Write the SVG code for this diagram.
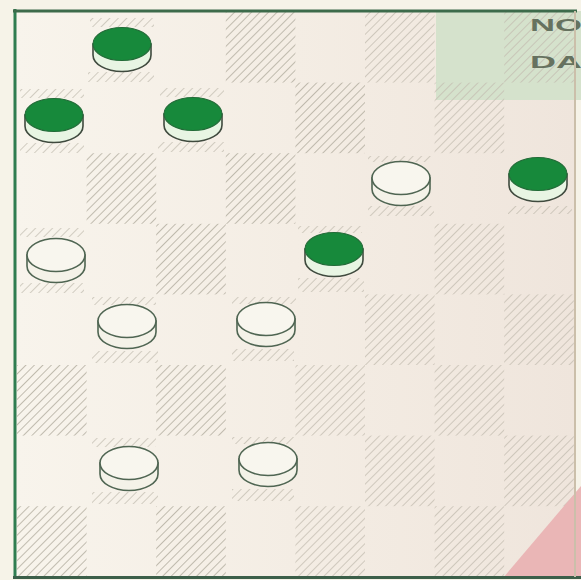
<svg xmlns="http://www.w3.org/2000/svg" xmlns:xlink="http://www.w3.org/1999/xlink" width="581" height="580" viewBox="0 0 581 580">
<defs>
<style>
.dark{fill:url(#hatch);}
.dark2{fill:url(#hatch2);}
.halo{fill:url(#hatch);opacity:0.7;}
.lbl{font-family:"Liberation Sans",Arial,sans-serif;font-weight:bold;font-size:17px;fill:#66725f;}
</style>
<linearGradient id="paper" x1="0" y1="0" x2="1" y2="0">
<stop offset="0" stop-color="#f8f4ec"/>
<stop offset="0.5" stop-color="#f4ede4"/>
<stop offset="1" stop-color="#efe5dc"/>
</linearGradient>
<pattern id="hatch" patternUnits="userSpaceOnUse" width="6" height="6" patternTransform="rotate(45)">
<line x1="0" y1="0" x2="0" y2="6" stroke="#b3ada0" stroke-width="1.6"/>
</pattern>
<pattern id="hatch2" patternUnits="userSpaceOnUse" width="6" height="6" patternTransform="rotate(45)">
<line x1="0" y1="0" x2="0" y2="6" stroke="#c3bcb0" stroke-width="1.5"/>
</pattern>
<g id="greenPiece">
<path d="M-29,0 L-29,11 A29,16.5 0 0 0 29,11 L29,0 Z" fill="#e8f5e3" stroke="#3f4a3e" stroke-width="1.6"/>
<ellipse cx="0" cy="0" rx="29" ry="16.5" fill="#17893b" stroke="#236b38" stroke-width="1.2"/>
</g>
<g id="whitePiece">
<path d="M-29,0 L-29,11 A29,16.5 0 0 0 29,11 L29,0 Z" fill="#f4f2e8" stroke="#4f6552" stroke-width="1.6"/>
<ellipse cx="0" cy="0" rx="29" ry="16.5" fill="#f8f6ee" stroke="#4f6552" stroke-width="1.6"/>
</g>
</defs>

<!-- paper -->
<rect x="0" y="0" width="581" height="580" fill="#f6f3e8"/>
<rect x="15" y="11" width="560" height="567" fill="url(#paper)"/>
<!-- green tinted corner -->
<rect x="436" y="11" width="145" height="89" fill="#d5e2cc"/>

<!-- dark squares, full hatch -->
<g id="board-squares">
<rect class="dark" x="225.8" y="12" width="69.6" height="70.6"/>
<rect class="dark2" x="365" y="12" width="69.6" height="70.6"/>
<rect class="dark2" x="504.2" y="12" width="69.6" height="70.6"/>

<rect class="dark" x="295.4" y="82.6" width="69.6" height="70.6"/>
<rect class="dark2" x="434.6" y="82.6" width="69.6" height="70.6"/>

<rect class="dark" x="86.6" y="153.2" width="69.6" height="70.6"/>
<rect class="dark" x="225.8" y="153.2" width="69.6" height="70.6"/>

<rect class="dark" x="156.2" y="223.8" width="69.6" height="70.6"/>
<rect class="dark2" x="434.6" y="223.8" width="69.6" height="70.6"/>

<rect class="dark2" x="365" y="294.4" width="69.6" height="70.6"/>
<rect class="dark2" x="504.2" y="294.4" width="69.6" height="70.6"/>

<rect class="dark" x="17" y="365" width="69.6" height="70.6"/>
<rect class="dark" x="156.2" y="365" width="69.6" height="70.6"/>
<rect class="dark2" x="295.4" y="365" width="69.6" height="70.6"/>
<rect class="dark2" x="434.6" y="365" width="69.6" height="70.6"/>

<rect class="dark2" x="365" y="435.6" width="69.6" height="70.6"/>
<rect class="dark2" x="504.2" y="435.6" width="69.6" height="70.6"/>

<rect class="dark" x="17" y="506.2" width="69.6" height="70.6"/>
<rect class="dark" x="156.2" y="506.2" width="69.6" height="70.6"/>
<rect class="dark2" x="295.4" y="506.2" width="69.6" height="70.6"/>
<rect class="dark2" x="434.6" y="506.2" width="69.6" height="70.6"/>

<!-- occupied dark squares: hatch only in strips above and below the piece -->
<rect class="halo" x="90" y="18" width="64" height="9"/>
<rect class="halo" x="88" y="72" width="66" height="10"/>
<rect class="halo" x="20" y="89" width="64" height="9"/>
<rect class="halo" x="20" y="143" width="64" height="10"/>
<rect class="halo" x="160" y="88" width="64" height="9"/>
<rect class="halo" x="158" y="142" width="66" height="10"/>
<rect class="halo" x="368" y="156" width="64" height="6"/>
<rect class="halo" x="368" y="206" width="66" height="10"/>
<rect class="halo" x="508" y="206" width="64" height="8"/>
<rect class="halo" x="20" y="228" width="64" height="9"/>
<rect class="halo" x="20" y="283" width="64" height="10"/>
<rect class="halo" x="298" y="226" width="64" height="7"/>
<rect class="halo" x="298" y="278" width="66" height="14"/>
<rect class="halo" x="92" y="297" width="64" height="8"/>
<rect class="halo" x="92" y="351" width="66" height="12"/>
<rect class="halo" x="232" y="297" width="64" height="7"/>
<rect class="halo" x="232" y="349" width="62" height="12"/>
<rect class="halo" x="92" y="438" width="64" height="9"/>
<rect class="halo" x="92" y="492" width="66" height="12"/>
<rect class="halo" x="232" y="437" width="62" height="7"/>
<rect class="halo" x="232" y="489" width="62" height="12"/>
</g>

<!-- pink corner -->
<polygon points="581,486 503,578 581,578" fill="#eab6b6"/>

<!-- corner label -->
<text class="lbl" x="530" y="31" textLength="52" lengthAdjust="spacingAndGlyphs">NO</text>
<text class="lbl" x="530" y="68" textLength="52" lengthAdjust="spacingAndGlyphs">DA</text>

<!-- frame -->
<g id="frame" fill="none">
<line x1="15" y1="9" x2="15" y2="579" stroke="#2f7d50" stroke-width="3"/>
<line x1="13" y1="11" x2="577" y2="11" stroke="#3d6b4b" stroke-width="3"/>
<line x1="13" y1="577.5" x2="581" y2="577.5" stroke="#3c5f49" stroke-width="3"/>
<line x1="575" y1="11" x2="575" y2="577" stroke="#cbbfaa" stroke-width="2"/>
</g>

<!-- pieces -->
<g id="pieces">
<g id="green-1" transform="translate(122,44)"><use xlink:href="#greenPiece" href="#greenPiece"/></g>
<g id="green-2" transform="translate(54,115)"><use xlink:href="#greenPiece" href="#greenPiece"/></g>
<g id="green-3" transform="translate(193,114)"><use xlink:href="#greenPiece" href="#greenPiece"/></g>
<g id="green-4" transform="translate(538,174)"><use xlink:href="#greenPiece" href="#greenPiece"/></g>
<g id="green-5" transform="translate(334,249)"><use xlink:href="#greenPiece" href="#greenPiece"/></g>
<g id="white-1" transform="translate(401,178)"><use xlink:href="#whitePiece" href="#whitePiece"/></g>
<g id="white-2" transform="translate(56,255)"><use xlink:href="#whitePiece" href="#whitePiece"/></g>
<g id="white-3" transform="translate(127,321)"><use xlink:href="#whitePiece" href="#whitePiece"/></g>
<g id="white-4" transform="translate(266,319)"><use xlink:href="#whitePiece" href="#whitePiece"/></g>
<g id="white-5" transform="translate(129,463)"><use xlink:href="#whitePiece" href="#whitePiece"/></g>
<g id="white-6" transform="translate(268,459)"><use xlink:href="#whitePiece" href="#whitePiece"/></g>
</g>
<g id="connectors"/>
</svg>
